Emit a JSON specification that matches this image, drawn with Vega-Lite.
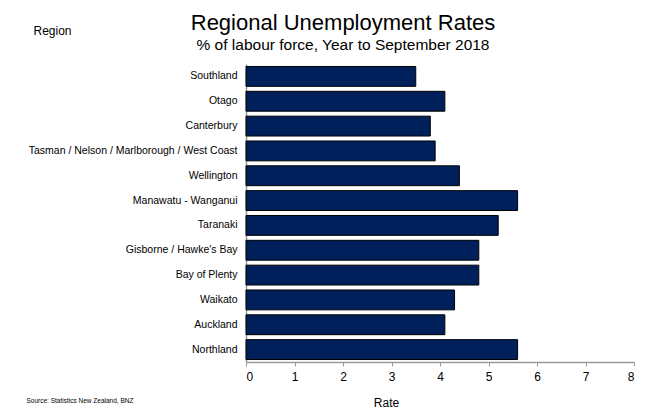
{
  "$schema": "https://vega.github.io/schema/vega-lite/v6.json",
  "width": 388,
  "height": 298,
  "autosize": {"type": "none"},
  "padding": {"left": 246, "top": 64, "right": 16, "bottom": 48},
  "background": "white",
  "config": {
    "font": "Liberation Sans",
    "view": {"stroke": null}
  },
  "title": {
    "text": "Regional Unemployment Rates",
    "subtitle": "% of labour force, Year to September 2018",
    "frame": "group",
    "anchor": "middle",
    "dx": -97,
    "dy": 40,
    "offset": 10,
    "fontSize": 22,
    "fontWeight": "normal",
    "color": "black",
    "subtitleFontSize": 15.5,
    "subtitleColor": "black",
    "subtitlePadding": 3,
    "font": "Liberation Sans",
    "subtitleFont": "Liberation Sans"
  },
  "data": {
    "values": [
      {"region": "Southland", "rate": 3.5},
      {"region": "Otago", "rate": 4.1},
      {"region": "Canterbury", "rate": 3.8},
      {"region": "Tasman / Nelson / Marlborough / West Coast", "rate": 3.9},
      {"region": "Wellington", "rate": 4.4},
      {"region": "Manawatu - Wanganui", "rate": 5.6},
      {"region": "Taranaki", "rate": 5.2},
      {"region": "Gisborne / Hawke's Bay", "rate": 4.8},
      {"region": "Bay of Plenty", "rate": 4.8},
      {"region": "Waikato", "rate": 4.3},
      {"region": "Auckland", "rate": 4.1},
      {"region": "Northland", "rate": 5.6}
    ]
  },
  "layer": [
    {
      "mark": {"type": "bar", "fill": "#00205B", "stroke": "#000000", "strokeWidth": 1},
      "encoding": {
        "y": {
          "field": "region",
          "type": "nominal",
          "sort": null,
          "scale": {"paddingInner": 0.2, "paddingOuter": 0.1},
          "axis": {
            "title": "Region",
            "titleAngle": 0,
            "titleX": -194,
            "titleY": -30,
            "titleAlign": "center",
            "titleBaseline": "alphabetic",
            "titleFontSize": 12,
            "titleFontWeight": "normal",
            "titleColor": "black",
            "labelFontSize": 10.5,
            "labelColor": "black",
            "labelPadding": 9,
            "labelLimit": 300,
            "ticks": false,
            "domainColor": "#9a9a9a",
            "domainWidth": 1.5
          }
        },
        "x": {
          "field": "rate",
          "type": "quantitative",
          "scale": {"domain": [0, 8], "nice": false},
          "axis": {
            "title": "Rate",
            "values": [0, 1, 2, 3, 4, 5, 6, 7, 8],
            "grid": false,
            "titleX": 140,
            "titleY": 44,
            "titleAlign": "center",
            "titleBaseline": "alphabetic",
            "titleFontSize": 12,
            "titleFontWeight": "normal",
            "titleColor": "black",
            "labelFontSize": 12,
            "labelColor": "black",
            "labelPadding": 5,
            "tickSize": 4,
            "tickColor": "#9a9a9a",
            "domainColor": "#9a9a9a",
            "domainWidth": 1.5
          }
        }
      }
    },
    {
      "mark": {"type": "bar", "opacity": 0},
      "encoding": {
        "y": {"field": "region", "type": "nominal", "sort": null},
        "x": {
          "field": "rate",
          "type": "quantitative",
          "axis": {
            "orient": "top",
            "title": "Source: Statistics New Zealand, BNZ",
            "labels": false,
            "ticks": false,
            "domain": false,
            "grid": false,
            "titleX": -220,
            "titleY": 338,
            "titleAlign": "left",
            "titleBaseline": "alphabetic",
            "titleFontSize": 6.5,
            "titleFontWeight": "normal",
            "titleColor": "black"
          }
        }
      }
    }
  ],
  "resolve": {"axis": {"x": "independent"}}
}
